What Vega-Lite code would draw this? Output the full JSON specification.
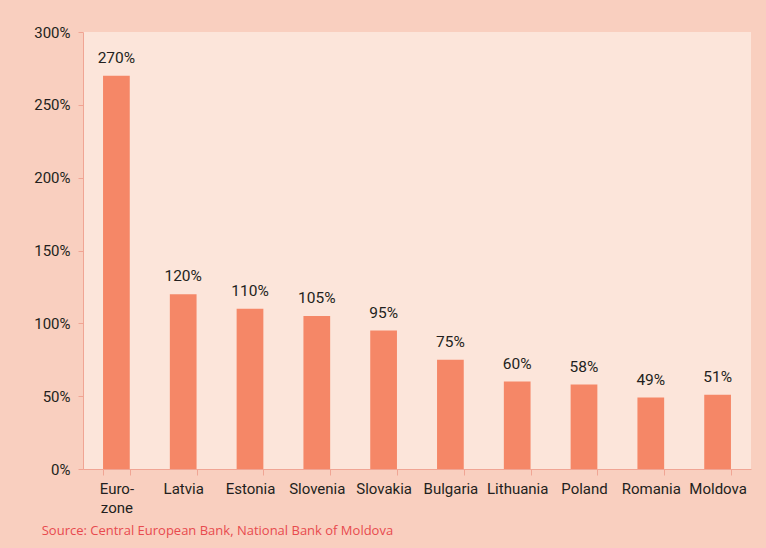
{
  "$schema": "https://vega.github.io/schema/vega-lite/v6.json",
  "width": 668,
  "height": 437,
  "autosize": {"type": "none"},
  "padding": {"left": 83, "top": 32, "right": 15, "bottom": 79},
  "background": "#f9cfbf",
  "config": {
    "view": {"fill": "#fce5da", "stroke": null},
    "font": "Roboto"
  },
  "title": {
    "text": "Source: Central European Bank, National Bank of Moldova",
    "orient": "bottom",
    "anchor": "start",
    "frame": "bounds",
    "font": "Open Sans",
    "fontSize": 13,
    "fontWeight": "normal",
    "color": "#e84a4e",
    "offset": 10,
    "dx": 8
  },
  "data": {
    "values": [
      {"country": "Euro-zone", "value": 270},
      {"country": "Latvia", "value": 120},
      {"country": "Estonia", "value": 110},
      {"country": "Slovenia", "value": 105},
      {"country": "Slovakia", "value": 95},
      {"country": "Bulgaria", "value": 75},
      {"country": "Lithuania", "value": 60},
      {"country": "Poland", "value": 58},
      {"country": "Romania", "value": 49},
      {"country": "Moldova", "value": 51}
    ]
  },
  "encoding": {
    "x": {
      "field": "country",
      "type": "nominal",
      "sort": null,
      "scale": {"paddingInner": 0.6, "paddingOuter": 0.3},
      "axis": {
        "title": null,
        "labelAngle": 0,
        "labelFont": "Roboto",
        "labelFontSize": 15,
        "labelColor": "#231f20",
        "labelPadding": 6,
        "labelExpr": "datum.value == 'Euro-zone' ? ['Euro-', 'zone'] : datum.value",
        "labelLineHeight": 19,
        "domainColor": "#f0a594",
        "tickColor": "#f0a594",
        "tickBand": "extent",
        "tickSize": 6
      }
    },
    "y": {
      "field": "value",
      "type": "quantitative",
      "scale": {"domain": [0, 300]},
      "axis": {
        "title": null,
        "values": [0, 50, 100, 150, 200, 250, 300],
        "labelExpr": "datum.value + '%'",
        "labelFont": "Roboto",
        "labelFontSize": 15,
        "labelColor": "#231f20",
        "labelPadding": 8,
        "labelBaseline": "middle",
        "grid": false,
        "domainColor": "#f0a594",
        "tickColor": "#f0a594",
        "tickSize": 5
      }
    }
  },
  "layer": [
    {"mark": {"type": "bar", "color": "#f58767"}},
    {
      "transform": [{"calculate": "datum.value + '%'", "as": "label"}],
      "mark": {"type": "text", "baseline": "alphabetic", "dy": -13, "fontSize": 15.5, "color": "#231f20", "font": "Roboto"},
      "encoding": {"text": {"field": "label", "type": "nominal"}}
    }
  ]
}
